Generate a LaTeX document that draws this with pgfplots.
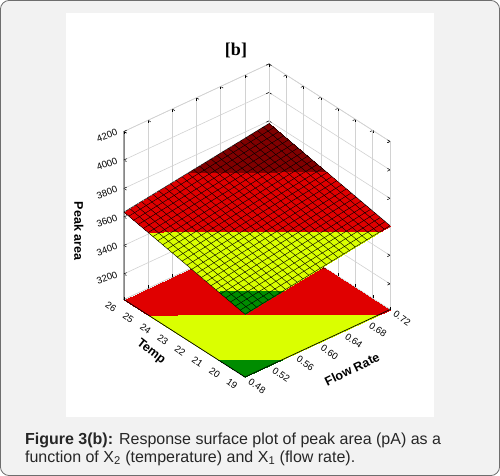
\documentclass[border=0pt]{standalone}
\usepackage{pgfplots}
\usepackage{pgfplotstable}
\pgfplotsset{compat=1.18}
\usepackage{fontspec}
\setmainfont{Liberation Sans}
\newfontfamily\serifb{Liberation Serif}
\usetikzlibrary{calc,backgrounds}

\definecolor{bandgreen}{RGB}{0,140,0}
\definecolor{bandyellow}{RGB}{218,255,0}
\definecolor{bandred}{RGB}{224,0,0}
\definecolor{banddark}{RGB}{128,0,0}
\definecolor{panelgray}{RGB}{242,242,242}
\definecolor{framegray}{RGB}{110,110,110}
\definecolor{gridgray}{RGB}{210,210,210}

% corners of the response surface: flow rate, temp, peak area, floor level
\pgfplotstableread{
x y z zf
0.48 19 3461 3020
0.72 19 3609 3020
0.48 26 3634 3020
0.72 26 3782 3020
}\surfcorners

% mesh lines of the surface (lines of constant flow rate)
\pgfplotstableread{
x y z
0.48 19 3461
0.48 26 3634
nan nan nan
0.4896 19 3466.92
0.4896 26 3639.92
nan nan nan
0.4992 19 3472.84
0.4992 26 3645.84
nan nan nan
0.5088 19 3478.76
0.5088 26 3651.76
nan nan nan
0.5184 19 3484.68
0.5184 26 3657.68
nan nan nan
0.528 19 3490.6
0.528 26 3663.6
nan nan nan
0.5376 19 3496.52
0.5376 26 3669.52
nan nan nan
0.5472 19 3502.44
0.5472 26 3675.44
nan nan nan
0.5568 19 3508.36
0.5568 26 3681.36
nan nan nan
0.5664 19 3514.28
0.5664 26 3687.28
nan nan nan
0.576 19 3520.2
0.576 26 3693.2
nan nan nan
0.5856 19 3526.12
0.5856 26 3699.12
nan nan nan
0.5952 19 3532.04
0.5952 26 3705.04
nan nan nan
0.6048 19 3537.96
0.6048 26 3710.96
nan nan nan
0.6144 19 3543.88
0.6144 26 3716.88
nan nan nan
0.624 19 3549.8
0.624 26 3722.8
nan nan nan
0.6336 19 3555.72
0.6336 26 3728.72
nan nan nan
0.6432 19 3561.64
0.6432 26 3734.64
nan nan nan
0.6528 19 3567.56
0.6528 26 3740.56
nan nan nan
0.6624 19 3573.48
0.6624 26 3746.48
nan nan nan
0.672 19 3579.4
0.672 26 3752.4
nan nan nan
0.6816 19 3585.32
0.6816 26 3758.32
nan nan nan
0.6912 19 3591.24
0.6912 26 3764.24
nan nan nan
0.7008 19 3597.16
0.7008 26 3770.16
nan nan nan
0.7104 19 3603.08
0.7104 26 3776.08
nan nan nan
0.72 19 3609
0.72 26 3782
}\ulines

% mesh lines of the surface (lines of constant temperature)
\pgfplotstableread{
x y z
0.48 19 3461
0.72 19 3609
nan nan nan
0.48 19.28 3467.92
0.72 19.28 3615.92
nan nan nan
0.48 19.56 3474.84
0.72 19.56 3622.84
nan nan nan
0.48 19.84 3481.76
0.72 19.84 3629.76
nan nan nan
0.48 20.12 3488.68
0.72 20.12 3636.68
nan nan nan
0.48 20.4 3495.6
0.72 20.4 3643.6
nan nan nan
0.48 20.68 3502.52
0.72 20.68 3650.52
nan nan nan
0.48 20.96 3509.44
0.72 20.96 3657.44
nan nan nan
0.48 21.24 3516.36
0.72 21.24 3664.36
nan nan nan
0.48 21.52 3523.28
0.72 21.52 3671.28
nan nan nan
0.48 21.8 3530.2
0.72 21.8 3678.2
nan nan nan
0.48 22.08 3537.12
0.72 22.08 3685.12
nan nan nan
0.48 22.36 3544.04
0.72 22.36 3692.04
nan nan nan
0.48 22.64 3550.96
0.72 22.64 3698.96
nan nan nan
0.48 22.92 3557.88
0.72 22.92 3705.88
nan nan nan
0.48 23.2 3564.8
0.72 23.2 3712.8
nan nan nan
0.48 23.48 3571.72
0.72 23.48 3719.72
nan nan nan
0.48 23.76 3578.64
0.72 23.76 3726.64
nan nan nan
0.48 24.04 3585.56
0.72 24.04 3733.56
nan nan nan
0.48 24.32 3592.48
0.72 24.32 3740.48
nan nan nan
0.48 24.6 3599.4
0.72 24.6 3747.4
nan nan nan
0.48 24.88 3606.32
0.72 24.88 3754.32
nan nan nan
0.48 25.16 3613.24
0.72 25.16 3761.24
nan nan nan
0.48 25.44 3620.16
0.72 25.44 3768.16
nan nan nan
0.48 25.72 3627.08
0.72 25.72 3775.08
nan nan nan
0.48 26 3634
0.72 26 3782
}\vlines

\begin{document}
\begin{tikzpicture}
\begin{axis}[
  x={(604.17pt,281.25pt)}, y={(-17.286pt,11.071pt)}, z={(0pt,0.14237pt)},
  xmin=0.48, xmax=0.72, ymin=19, ymax=26, zmin=3020, zmax=4200,
  xtick={0.48,0.52,0.56,0.60,0.64,0.68,0.72},
  ytick={19,20,21,22,23,24,25,26},
  ztick={3200,3400,3600,3800,4000,4200},
  clip=false,
  grid=major,
  major grid style={gridgray, line width=0.6pt},
  axis line style={gridgray, line width=0.6pt},
  tick style={black, line width=0.5pt},
  major tick length=3pt,
  /pgf/number format/assume math mode=true,
  /pgf/number format/1000 sep={},
  tick label style={font=\fontsize{9.5}{11}\selectfont},
  xticklabel style={/pgf/number format/fixed, /pgf/number format/fixed zerofill, /pgf/number format/precision=2,
     anchor=center, xshift=12pt, yshift=-9pt, rotate=-35},
  yticklabel style={anchor=center, xshift=-13pt, yshift=-7pt, rotate=-35},
  zticklabel style={anchor=center, xshift=-17pt, yshift=-4pt, rotate=20},
  colormap={bands}{color(0)=(bandgreen) color(1)=(bandyellow) color(2)=(bandred) color(3)=(banddark) color(4)=(banddark)},
  colormap access=piecewise constant,
  point meta min=3400, point meta max=3800,
]
% contour map on the floor
\addplot3[surf, shader=interp, mesh/rows=2, mesh/cols=2, point meta=explicit]
  table[x=x, y=y, z=zf, meta=z] {\surfcorners};
% response surface
\addplot3[surf, shader=interp, mesh/rows=2, mesh/cols=2, point meta=explicit]
  table[x=x, y=y, z=z, meta=z] {\surfcorners};
\addplot3[black, line width=0.42pt, unbounded coords=jump, no marks] table[x=x, y=y, z=z] {\ulines};
\addplot3[black, line width=0.42pt, unbounded coords=jump, no marks] table[x=x, y=y, z=z] {\vlines};
\draw[black, line width=0.7pt] (axis cs:0.48,26,4200) -- (axis cs:0.48,26,3020)
   -- (axis cs:0.48,19,3020) -- (axis cs:0.72,19,3020);
\coordinate (F) at (axis cs:0.48,19,3020);
\end{axis}
\begin{scope}[on background layer, x=1pt, y=1pt, shift={($(F)+(-245pt,-99pt)$)}]
  \draw[framegray, line width=0.8pt, fill=panelgray, rounded corners=9pt] (0.5,0.5) rectangle (499.5,475.5);
  \fill[white] (66,59) rectangle (434,463);
\end{scope}
\begin{scope}[x=1pt, y=1pt, shift={($(F)+(-245pt,-99pt)$)}]
  \node[font=\serifb\bfseries\fontsize{18}{20}\selectfont] at (236,425) {[b]};
  \node[rotate=-90, font=\bfseries\fontsize{12.5}{14}\selectfont] at (79,245) {Peak area};
  \node[rotate=-38, font=\bfseries\fontsize{12.5}{14}\selectfont] at (151,124) {Temp};
  \node[rotate=26, font=\bfseries\fontsize{12.5}{14}\selectfont] at (352,107) {Flow Rate};
  \node[anchor=base west, inner sep=0pt, font=\fontsize{16}{18}\selectfont, text=black!85] at (25,32)
    {\textbf{Figure 3(b):} Response surface plot of peak area (pA) as a};
  \node[anchor=base west, inner sep=0pt, font=\fontsize{16}{18}\selectfont, text=black!85] at (25,14)
    {function of X\textsubscript{2} (temperature) and X\textsubscript{1} (flow rate).};
\end{scope}
\end{tikzpicture}
\end{document}
